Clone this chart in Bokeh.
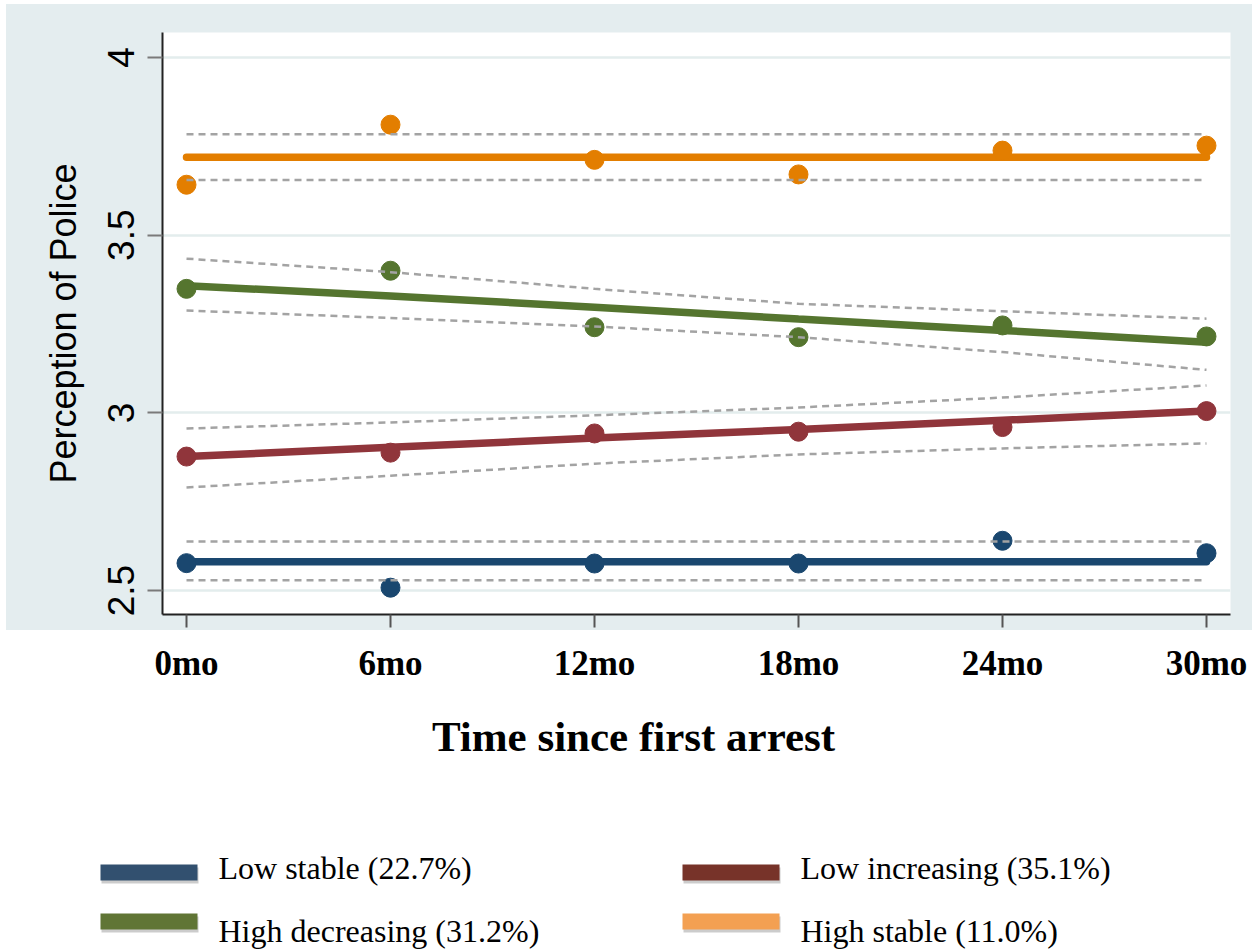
from bokeh.plotting import figure
from bokeh.models import Range1d, FixedTicker
from bokeh.layouts import column
from bokeh.embed import file_html
from bokeh.resources import INLINE
from bokeh.core.properties import value

# ---------------- data ----------------
months = [0, 6, 12, 18, 24, 30]
x_labels = ["0mo", "6mo", "12mo", "18mo", "24mo", "30mo"]
y_ticks = [2.5, 3.0, 3.5, 4.0]
y_tick_labels = ["2.5", "3", "3.5", "4"]

groups = ["Low stable (22.7%)", "Low increasing (35.1%)",
          "High decreasing (31.2%)", "High stable (11.0%)"]

low_stable_obs = [2.577, 2.508, 2.576, 2.576, 2.640, 2.605]
low_stable_fit = [2.581, 2.581, 2.581, 2.581, 2.581, 2.581]
low_stable_lo = [2.529, 2.529, 2.529, 2.529, 2.529, 2.529]
low_stable_hi = [2.638, 2.638, 2.638, 2.638, 2.638, 2.638]

low_inc_obs = [2.877, 2.888, 2.942, 2.947, 2.960, 3.005]
low_inc_fit = [2.877, 2.903, 2.929, 2.953, 2.979, 3.005]
low_inc_lo = [2.790, 2.823, 2.857, 2.883, 2.900, 2.914]
low_inc_hi = [2.956, 2.973, 2.993, 3.015, 3.043, 3.077]

high_dec_obs = [3.349, 3.400, 3.241, 3.213, 3.246, 3.215]
high_dec_fit = [3.358, 3.329, 3.297, 3.264, 3.232, 3.199]
high_dec_lo = [3.288, 3.267, 3.243, 3.213, 3.171, 3.121]
high_dec_hi = [3.434, 3.396, 3.349, 3.307, 3.286, 3.265]

high_stab_obs = [3.642, 3.811, 3.712, 3.671, 3.738, 3.752]
high_stab_fit = [3.719, 3.719, 3.719, 3.719, 3.719, 3.719]
high_stab_lo = [3.655, 3.655, 3.655, 3.655, 3.655, 3.655]
high_stab_hi = [3.784, 3.784, 3.784, 3.784, 3.784, 3.784]

line_colors = ["#1a476f", "#90353b", "#55752f", "#e37e00"]
legend_colors = ["#32506f", "#773329", "#607535", "#f3a052"]

series = [
    (low_stable_obs, low_stable_fit, low_stable_lo, low_stable_hi),
    (low_inc_obs, low_inc_fit, low_inc_lo, low_inc_hi),
    (high_dec_obs, high_dec_fit, high_dec_lo, high_dec_hi),
    (high_stab_obs, high_stab_fit, high_stab_lo, high_stab_hi),
]

# ---------------- layout ----------------
W, H = 1252, 952
HP = 700                                     # height of the plot figure
FL, FR, FT, FB = 162, 1230, 32, 614          # frame edges in canvas pixels
x0, x1 = -0.706, 30.706
y0, y1 = 2.4325, 4.0704

BG = "#e4edef"
SANS = "Liberation Sans"
SERIF = "Liberation Serif"

p = figure(width=W, height=HP, x_range=Range1d(x0, x1), y_range=Range1d(y0, y1),
           output_backend="svg", toolbar_location=None,
           min_border_left=FL, min_border_right=W - FR,
           min_border_top=FT, min_border_bottom=HP - FB,
           border_fill_color=None, background_fill_color="white", outline_line_color=None)
# grey graph region behind the plot area
p.styles = {"background": "linear-gradient(%s, %s) 6px 4px / 1246px 626px no-repeat, #ffffff" % (BG, BG)}

# y axis
yax = p.yaxis[0]
yax.ticker = FixedTicker(ticks=y_ticks)
yax.major_label_overrides = dict(zip(y_ticks, y_tick_labels))
yax.major_label_orientation = "vertical"
yax.major_label_text_font = SANS
yax.major_label_text_font_size = "37px"
yax.major_label_text_color = "black"
yax.major_label_standoff = 13
yax.major_tick_out = 15
yax.major_tick_in = 0
yax.major_tick_line_color = "#7a7a7a"
yax.major_tick_line_width = 2
yax.minor_tick_line_color = None
yax.axis_line_color = "#222222"
yax.axis_line_width = 2
yax.axis_label = "Perception of Police"
yax.axis_label_text_font = SANS
yax.axis_label_text_font_size = "36px"
yax.axis_label_text_font_style = "normal"
yax.axis_label_text_color = "black"
yax.axis_label_standoff = 22

# x axis
xax = p.xaxis[0]
xax.ticker = FixedTicker(ticks=months)
xax.major_label_overrides = dict(zip(months, x_labels))
xax.major_label_text_font = SERIF
xax.major_label_text_font_style = "bold"
xax.major_label_text_font_size = "35px"
xax.major_label_text_color = "black"
xax.major_label_standoff = 16
xax.major_tick_out = 13
xax.major_tick_in = 0
xax.major_tick_line_color = "#555555"
xax.major_tick_line_width = 2
xax.minor_tick_line_color = None
xax.axis_line_color = "#222222"
xax.axis_line_width = 2

p.xgrid.visible = False
p.ygrid.ticker = FixedTicker(ticks=y_ticks)
p.ygrid.grid_line_color = "#e3eded"
p.ygrid.grid_line_width = 2.5

for (obs, fit, lo, hi), col in zip(series, line_colors):
    p.line(months, fit, line_color=col, line_width=7.5, line_cap="round")
    p.scatter(months, obs, size=19, fill_color=col, line_color=col)
for (obs, fit, lo, hi) in series:
    p.line(months, lo, line_color="#a3a3a3", line_width=2.5, line_dash="7 5")
    p.line(months, hi, line_color="#a3a3a3", line_width=2.5, line_dash="7 5")

# ---------------- lower strip: axis title and legend (page pixel coordinates) ----------------
q = figure(width=W, height=H - HP, x_range=Range1d(0, W), y_range=Range1d(H, HP),
           output_backend="svg", toolbar_location=None, min_border=0,
           x_axis_location=None, y_axis_location=None,
           border_fill_color="white", background_fill_color="white", outline_line_color=None)
q.grid.visible = False
for fig in (p, q):
    try:
        fig.frame_align = False
    except Exception:
        pass

q.text(x=[633], y=[736], text=["Time since first arrest"], text_align="center",
       text_baseline="alphabetic", text_font=value(SERIF), text_font_style="bold",
       text_font_size="43px", text_color="black")

# legend slots: (swatch left, swatch top, text baseline)
slots = [(100, 864, 867), (682, 864, 867), (100, 913, 930), (682, 913, 930)]
for (sx, sy, tb), gi in zip(slots, range(4)):
    q.quad(left=[sx + 1], right=[sx + 98], top=[sy + 3], bottom=[sy + 19],
           fill_color="#8f8f8f", fill_alpha=0.45, line_color=None)
    q.quad(left=[sx], right=[sx + 97], top=[sy], bottom=[sy + 16],
           fill_color=legend_colors[gi], line_color=None)
    q.text(x=[sx + 118], y=[tb], text=[groups[gi]], text_align="left",
           text_baseline="alphabetic", text_font=value(SERIF), text_font_size="32px",
           text_color="black")

layout = column(p, q)
open("out.html", "w").write(file_html(layout, INLINE))
